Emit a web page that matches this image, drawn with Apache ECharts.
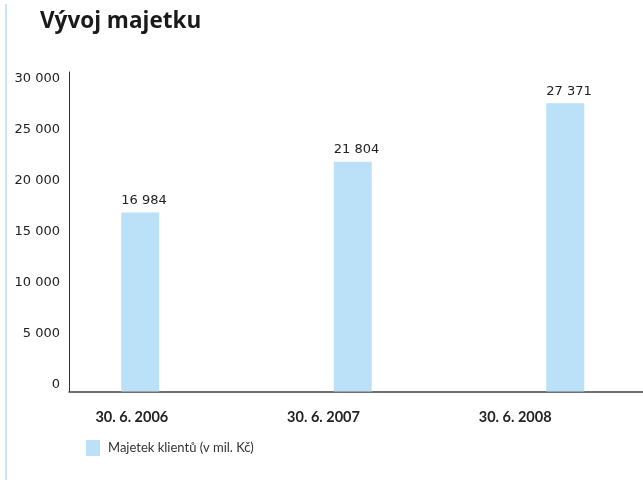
<!DOCTYPE html>
<html>
<head>
<meta charset="utf-8">
<script src="https://cdn.jsdelivr.net/npm/echarts@6/dist/echarts.min.js"></script>
<style>
html,body{margin:0;padding:0;background:#fff;}
#chart{width:643px;height:483px;}
</style>
</head>
<body>
<div id="chart"></div>
<script>
const titleText = 'Vývoj majetku';
const categories = ['30. 6. 2006', '30. 6. 2007', '30. 6. 2008'];
const seriesName = 'Majetek klientů (v mil. Kč)';
const values = [16984, 21804, 27371];
const yMin = 0, yMax = 30000, yInterval = 5000;

const fmt = v => String(v).replace(/\B(?=(\d{3})+(?!\d))/g, ' ');
const numFont = 'DejaVu Sans';
const txtFont = 'Lato';
const barColor = '#bae1f7';

const chart = echarts.init(document.getElementById('chart'), null, {renderer: 'canvas'});
chart.setOption({
  animation: false,
  backgroundColor: '#fff',
  title: {
    text: titleText, left: 35, top: 5,
    textStyle: {fontFamily: 'Open Sans', fontWeight: 'bold', fontSize: 22.5, color: '#1a1a1a'}
  },
  graphic: [{
    type: 'rect', shape: {x: 5, y: 4, width: 2, height: 476},
    style: {fill: '#c6e6f8'}, silent: true
  }],
  legend: {
    left: 81, top: 435, itemWidth: 14, itemHeight: 16, itemGap: 10,
    icon: 'rect',
    textStyle: {fontFamily: txtFont, fontSize: 13, color: '#333', padding: [0, 0, 0, 3]},
    data: [seriesName]
  },
  grid: [
    {left: 34, top: 75.5, width: 637.5, bottom: 91.5, outerBoundsMode: 'none'},
    {left: 69, top: 72, right: 0, bottom: 91.5, outerBoundsMode: 'none'},
    {left: 36, top: 79, width: 575, height: 306, outerBoundsMode: 'none'}
  ],
  xAxis: [
    {type: 'category', gridIndex: 0, data: categories,
     axisLine: {show: false}, axisTick: {show: false}, axisLabel: {show: false}},
    {type: 'value', gridIndex: 1, min: 0, max: 1,
     axisLine: {show: true, lineStyle: {color: '#444', width: 1.5}},
     axisTick: {show: false}, axisLabel: {show: false}, splitLine: {show: false}},
    {type: 'category', gridIndex: 2, data: categories,
     axisLine: {show: false}, axisTick: {show: false},
     axisLabel: {margin: 25, fontFamily: txtFont, fontWeight: 'bold', fontSize: 14.5, color: '#222'}}
  ],
  yAxis: [
    {type: 'value', gridIndex: 0, min: yMin, max: yMax,
     axisLine: {show: false}, axisTick: {show: false}, axisLabel: {show: false}, splitLine: {show: false}},
    {type: 'value', gridIndex: 1, min: 0, max: 1,
     axisLine: {show: true, lineStyle: {color: '#333', width: 1}},
     axisTick: {show: false}, axisLabel: {show: false}, splitLine: {show: false}},
    {type: 'value', gridIndex: 2, min: yMin, max: yMax, interval: yInterval, offset: -24,
     axisLine: {show: false}, axisTick: {show: false}, splitLine: {show: false},
     axisLabel: {margin: 0, fontFamily: numFont, fontSize: 13, color: '#222', formatter: fmt}}
  ],
  series: [{
    name: seriesName, type: 'bar', xAxisIndex: 0, yAxisIndex: 0,
    data: values, barWidth: 38,
    itemStyle: {color: barColor},
    label: {
      show: true, position: [0, -12], align: 'left', verticalAlign: 'middle',
      fontFamily: numFont, fontSize: 13, color: '#222',
      formatter: p => fmt(p.value)
    }
  }]
});
</script>
</body>
</html>
